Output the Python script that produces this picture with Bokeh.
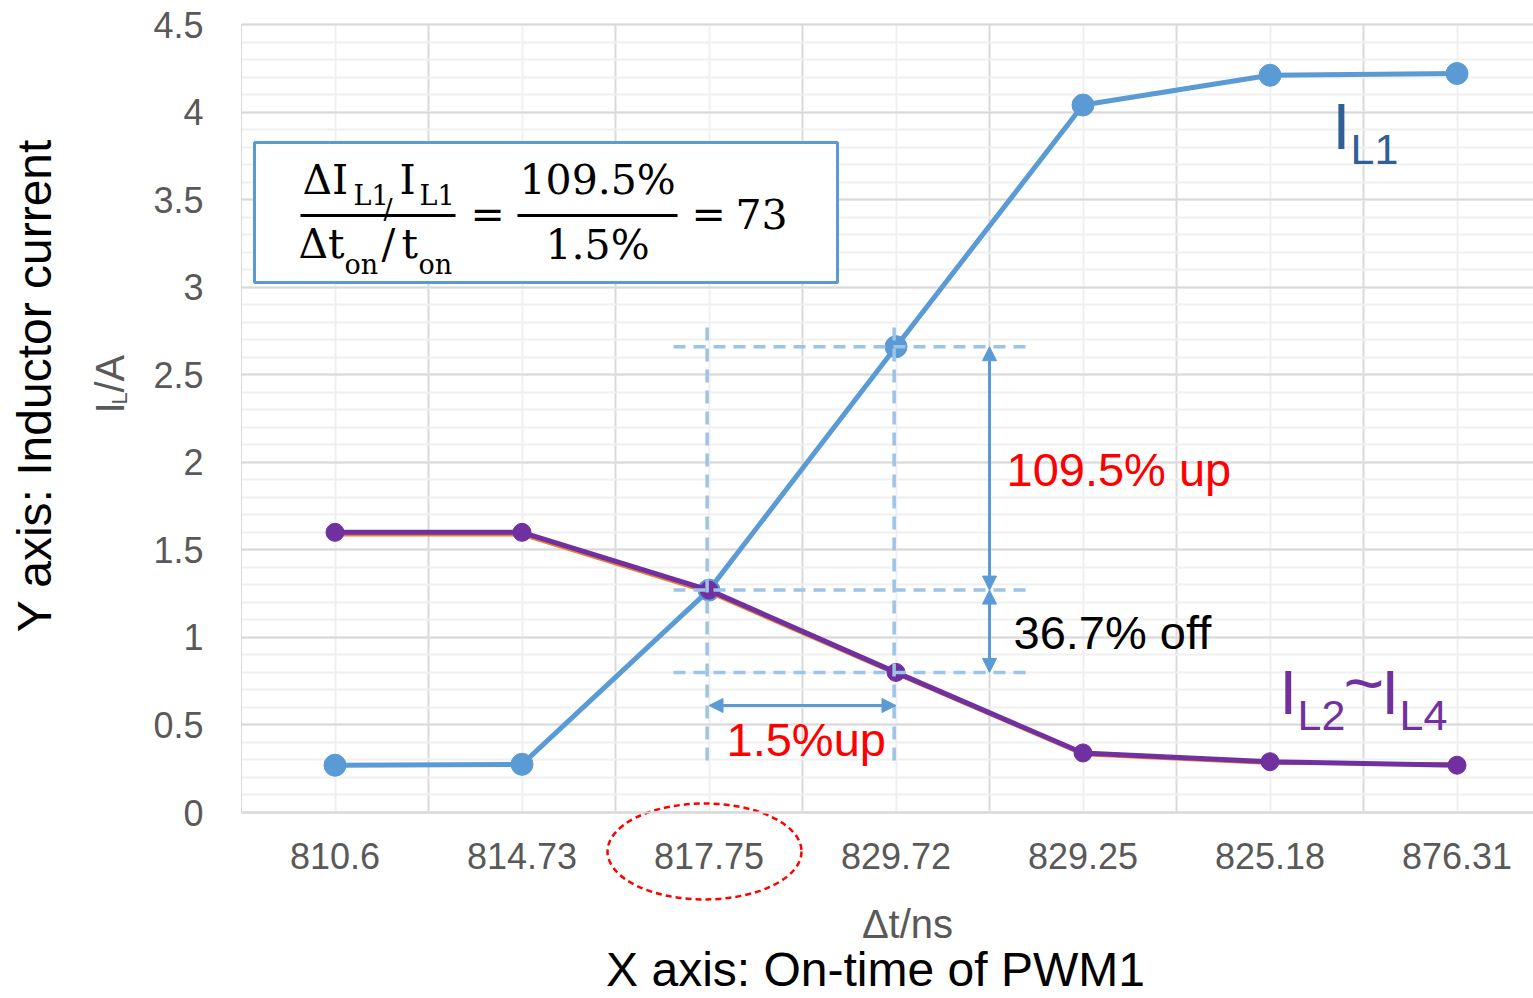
import numpy as np
from bokeh.plotting import figure
from bokeh.models import (Range1d, FixedTicker, SingleIntervalTicker, Label, BoxAnnotation,
                          Arrow, NormalHead, NumeralTickFormatter)
from bokeh.embed import file_html
from bokeh.resources import INLINE

# ---------------- data ----------------
categories = ["810.6", "814.73", "817.75", "829.72", "829.25", "825.18", "876.31"]
il1 = [0.27, 0.275, 1.27, 2.66, 4.04, 4.21, 4.22]
il2_il3 = [1.585, 1.585, 1.255, 0.79, 0.33, 0.28, 0.28]
il4 = [1.60, 1.60, 1.27, 0.80, 0.34, 0.29, 0.27]
y_min, y_max, y_step = 0.0, 4.5, 0.5

# ---------------- layout (the frame covers the whole canvas) ----------------
W, H = 1533, 998
PLOT_L, PLOT_T, PLOT_B = 241, 24, 812     # plot area in canvas pixels
CAT_PX = 187.0
Y_PX = (PLOT_B - PLOT_T) / (y_max - y_min)
x0 = -0.5 - PLOT_L / CAT_PX
x1 = x0 + W / CAT_PX
yb = y_min - (H - PLOT_B) / Y_PX
yt = y_max + PLOT_T / Y_PX
BASE_K = 0.34   # label anchor correction (fraction of font size)


def X(px):
    return x0 + px / CAT_PX


def Y(py):
    return y_min + (PLOT_B - py) / Y_PX


xs = list(range(len(categories)))
x_plot_end = x1

p = figure(width=W, height=H, output_backend="svg", toolbar_location=None, title=None,
           x_range=Range1d(x0, x1), y_range=Range1d(yb, yt),
           min_border_left=0, min_border_right=0, min_border_top=0, min_border_bottom=0)
p.outline_line_color = None
p.background_fill_color = "white"
p.border_fill_color = "white"

# axes drawn at the plot-area edges
p.xaxis.fixed_location = y_min
p.xaxis.bounds = (-0.5, x_plot_end)
p.xaxis.ticker = FixedTicker(ticks=xs)
p.xaxis.major_label_overrides = {i: c for i, c in enumerate(categories)}
p.yaxis.fixed_location = -0.5
p.yaxis.bounds = (y_min, y_max)
p.yaxis.ticker = SingleIntervalTicker(interval=y_step, num_minor_ticks=5)
p.yaxis.formatter = NumeralTickFormatter(format="0.[0]")
for ax in (p.xaxis[0], p.yaxis[0]):
    ax.major_tick_line_color = None
    ax.minor_tick_line_color = None
    ax.major_label_text_font = "Liberation Sans"
    ax.major_label_text_font_size = "36px"
    ax.major_label_text_color = "#595959"
    ax.axis_line_color = "#d9d9d9"
p.xaxis.axis_line_width = 2
p.xaxis.major_label_standoff = 24
p.yaxis.major_label_standoff = 32

# grids
p.xgrid.ticker = FixedTicker(ticks=[i + 0.5 for i in xs[:-1]], minor_ticks=xs)
p.xgrid.bounds = (-0.5, x_plot_end)
p.xgrid.cross_bounds = (y_min, y_max)
p.xgrid.grid_line_color = "#d9d9d9"
p.xgrid.grid_line_width = 2
p.xgrid.minor_grid_line_color = "#f0f0f0"
p.xgrid.minor_grid_line_width = 2
p.ygrid.bounds = (y_min, y_max)
p.ygrid.cross_bounds = (-0.5, x_plot_end)
p.ygrid.grid_line_color = "#d9d9d9"
p.ygrid.grid_line_width = 2
p.ygrid.minor_grid_line_color = "#f0f0f0"
p.ygrid.minor_grid_line_width = 2

# series
BLUE = "#5B9BD5"
PURPLE = "#7030A0"
ORANGE = "#ED7D31"
p.line(xs, il1, line_color=BLUE, line_width=5)
p.scatter(xs, il1, size=22, fill_color=BLUE, line_color=BLUE)
p.line(xs, il2_il3, line_color=ORANGE, line_width=3)
p.line(xs, il4, line_color=PURPLE, line_width=5)
p.scatter(xs, il4, size=18, fill_color=PURPLE, line_color=PURPLE)

# dashed guide lines
DASH_C = "#9DC3E6"
c0, c1 = 2, 3
y_hi, y_mid, y_lo = il1[c1], il1[c0], il4[c1]
p.segment(x0=[c0 - 0.01, c1 - 0.01], y0=[Y(760)] * 2, x1=[c0 - 0.01, c1 - 0.01], y1=[Y(322)] * 2,
          line_color=DASH_C, line_width=3.5, line_dash="13 8")
p.segment(x0=[X(673)] * 3, y0=[y_hi, y_mid, y_lo], x1=[X(1027)] * 3,
          y1=[y_hi, y_mid, y_lo], line_color=DASH_C, line_width=3.5, line_dash="12 8")

# arrows
ax_x = X(989)


def head():
    return NormalHead(size=14, fill_color=BLUE, line_color=BLUE)


for (a, b) in [(y_hi, y_mid), (y_mid, y_lo)]:
    p.add_layout(Arrow(x_start=ax_x, y_start=a, x_end=ax_x, y_end=b,
                       line_color=BLUE, line_width=3, start=head(), end=head()))
p.add_layout(Arrow(x_start=c0, y_start=Y(705), x_end=c1, y_end=Y(705),
                   line_color=BLUE, line_width=3, start=head(), end=head()))


def lab(text, px, py, size, color="black", font="Liberation Sans", align="left",
        rotated=False):
    """px, py: wanted baseline position of the text in canvas pixels."""
    if rotated:
        ax_, ay_ = X(px - BASE_K * size), Y(py)
        angle = np.pi / 2
    else:
        ax_, ay_ = X(px), Y(py - BASE_K * size)
        angle = 0.0
    p.add_layout(Label(x=ax_, y=ay_, text=text, text_font=font,
                       text_font_size=f"{size}px", text_color=color,
                       text_align=align, text_baseline="alphabetic", angle=angle))


# annotation texts
lab("109.5% up", 1006, 485, 47, "#FF0000")
lab("36.7% off", 1013, 648, 47, "black")
lab("1.5%up", 726, 755, 47, "#FF0000")

# series labels
L1C = "#2F5F94"
lab("I", 1332, 148, 64, L1C)
lab("L1", 1350, 163, 43, L1C)
lab("I", 1279, 713, 63, PURPLE)
lab("L2", 1297, 729, 43, PURPLE)
lab("~", 1343, 706, 70, PURPLE)
lab("I", 1381, 713, 63, PURPLE)
lab("L4", 1399, 729, 43, PURPLE)

# formula box
p.add_layout(BoxAnnotation(left=X(254), right=X(837), top=Y(142), bottom=Y(282),
                           fill_color="white", fill_alpha=1.0,
                           line_color=BLUE, line_alpha=1.0, line_width=3))
SER = "DejaVu Serif"
lab("\u0394I", 302, 193, 41, font=SER)
lab("L1", 353, 204, 27, font=SER)
lab("/", 383, 218, 27, font=SER)
lab("I", 399, 193, 41, font=SER)
lab("L1", 419, 204, 27, font=SER)
p.add_layout(BoxAnnotation(left=X(300), right=X(455), top=Y(213.5), bottom=Y(216.5),
                           fill_color="black", fill_alpha=1.0, line_color=None))
lab("\u0394t", 298, 257, 41, font=SER)
lab("on", 344, 273, 27, font=SER)
lab("/", 381, 257, 41, font=SER)
lab("t", 401, 257, 41, font=SER)
lab("on", 418, 273, 27, font=SER)
lab("=", 470, 227, 41, font=SER)
lab("109.5%", 519, 193, 41, font=SER)
p.add_layout(BoxAnnotation(left=X(517), right=X(677), top=Y(213.5), bottom=Y(216.5),
                           fill_color="black", fill_alpha=1.0, line_color=None))
lab("1.5%", 545, 258, 41, font=SER)
lab("=", 691, 227, 41, font=SER)
lab("73", 735, 227, 41, font=SER)

# red dashed ellipse around the 817.75 tick label
p.ellipse(x=[X(704)], y=[Y(851)], width=[194 / CAT_PX], height=[96 / Y_PX],
          fill_alpha=0, line_color="#FF0000", line_width=2.5, line_dash="6 4")

# axis titles
lab("\u0394t/ns", 907, 937, 40, "#595959", align="center")
lab("X axis: On-time of PWM1", 875, 985, 48, "black", align="center")
lab("Y axis: Inductor current", 50, 385, 48, "black", align="center", rotated=True)
lab("I", 123, 413, 40, "#595959", rotated=True)
lab("L", 126, 404, 22, "#595959", rotated=True)
lab("/A", 123, 392, 40, "#595959", rotated=True)

open("out.html", "w").write(file_html(p, INLINE))
